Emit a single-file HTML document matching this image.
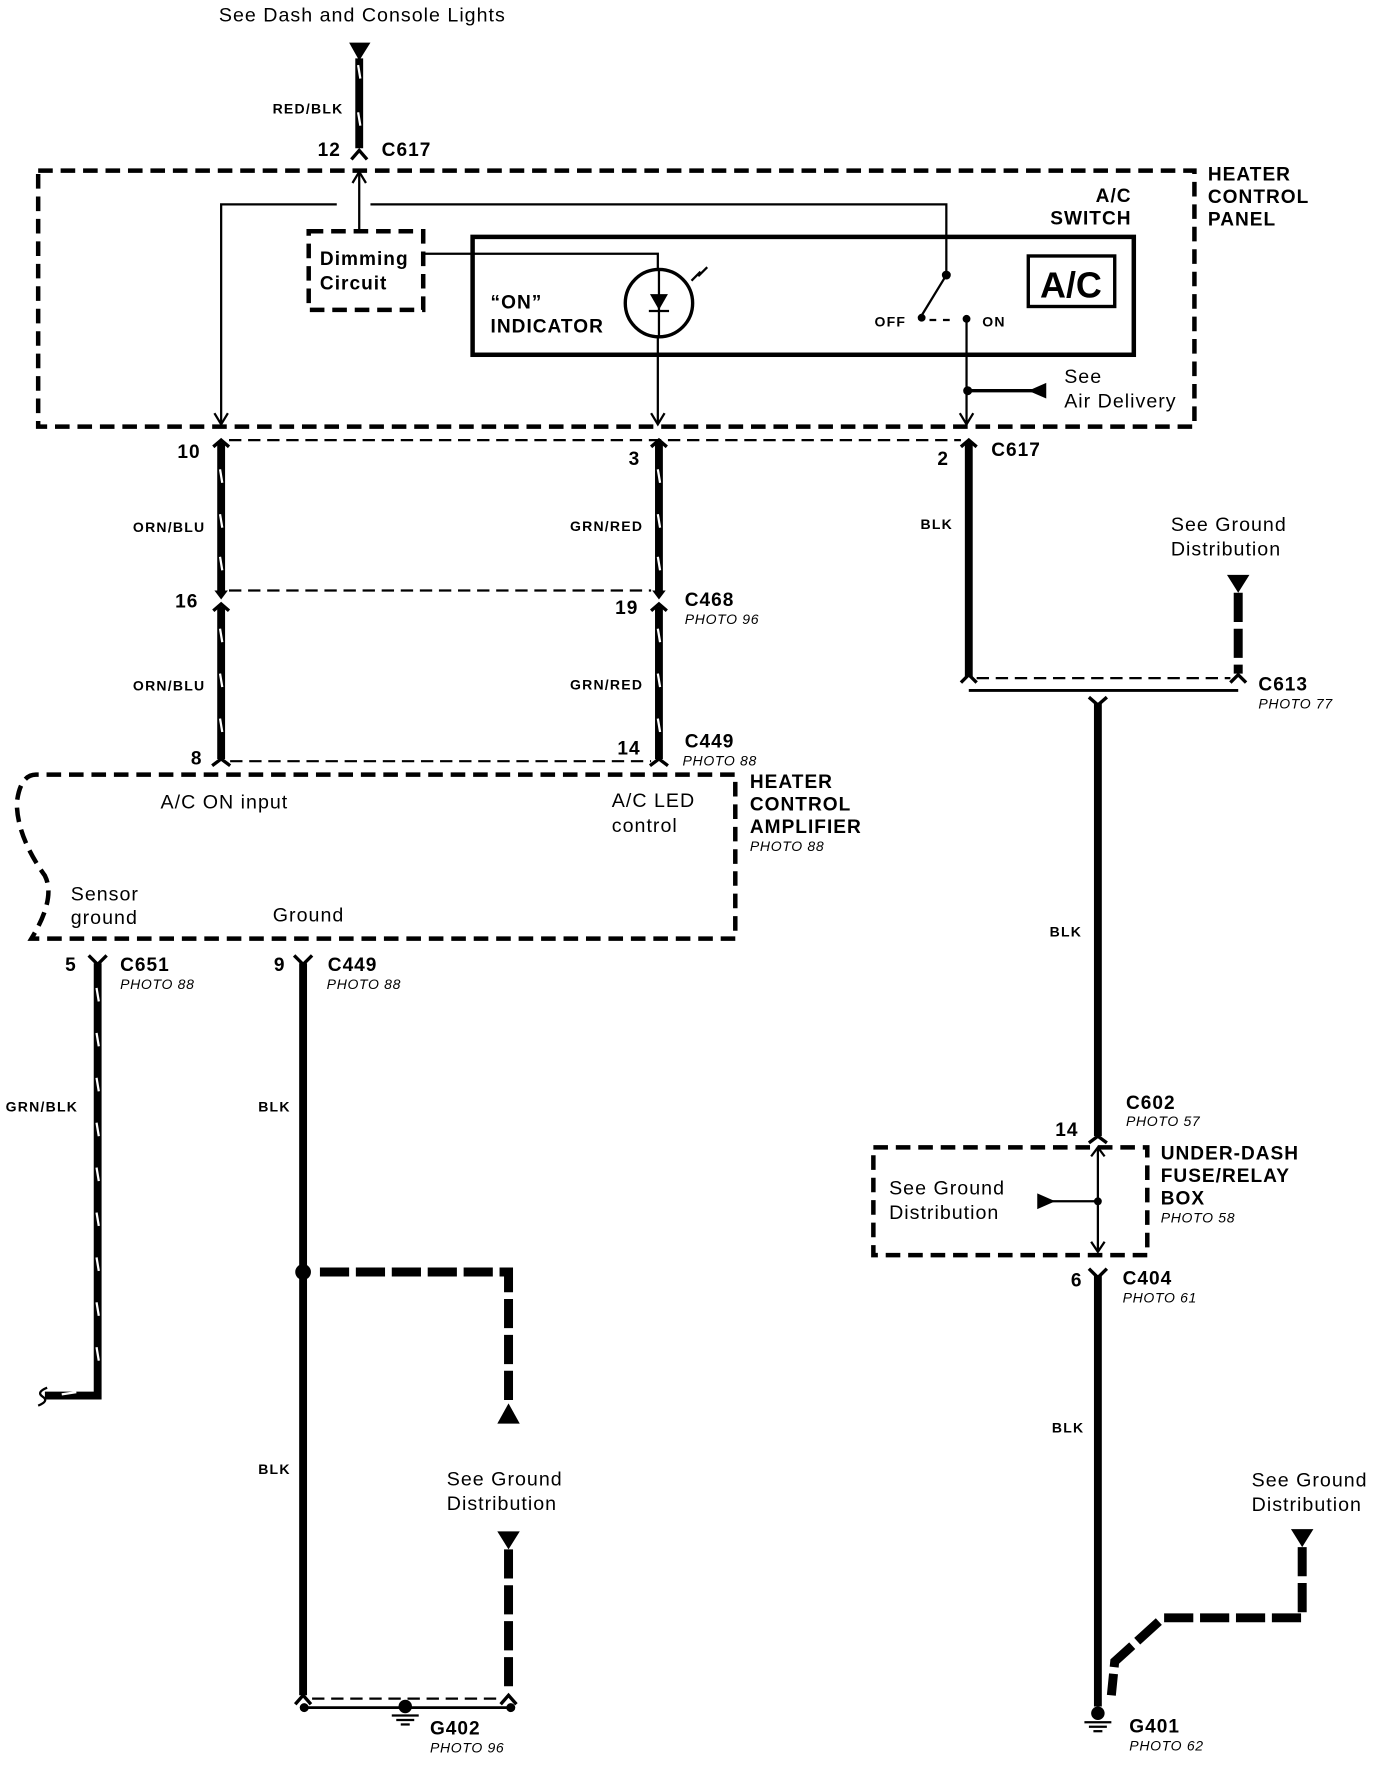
<!DOCTYPE html>
<html><head><meta charset="utf-8"><style>
html,body{margin:0;padding:0;background:#fff;}
svg{display:block;}
text{font-family:"Liberation Sans",sans-serif;fill:#000;}
.b{font-weight:bold;}
.lbl{font-size:17.5px;letter-spacing:0.9px;}
.big{font-size:17px;font-weight:bold;letter-spacing:0.9px;}
.sm{font-size:12.5px;font-weight:bold;letter-spacing:1.1px;}
.ph{font-size:12.5px;font-style:italic;letter-spacing:0.6px;}
.w{stroke:#000;stroke-width:7;fill:none;}
.t{stroke:#000;stroke-width:2;fill:none;}
.d{stroke:#000;stroke-width:4;fill:none;stroke-dasharray:13 7;}
.dt{stroke:#000;stroke-width:2;fill:none;stroke-dasharray:11 6;}
.dw{stroke:#000;stroke-width:8;fill:none;stroke-dasharray:26 6;}
.tk{stroke:#fff;stroke-width:2;}
.f{stroke:#000;stroke-width:3;fill:none;}
</style></head><body>
<svg width="1392" height="1766" viewBox="0 0 1240 1573" preserveAspectRatio="none" xmlns="http://www.w3.org/2000/svg">
<!-- top -->
<text x="195" y="19" class="lbl">See Dash and Console Lights</text>
<polygon points="311,38 330,38 320,54" fill="#000"/>
<line x1="320" y1="52" x2="320" y2="132" class="w"/>
<line x1="319" y1="58" x2="321" y2="70" class="tk"/><line x1="319" y1="100" x2="321" y2="112" class="tk"/>
<text x="306" y="101" class="sm" text-anchor="end">RED/BLK</text>
<polyline points="313,142 320,134 327,142" class="f"/>
<text x="283" y="139" class="big">12</text><text x="340" y="139" class="big">C617</text>
<!-- heater control panel -->
<rect x="34" y="152" width="1030" height="228" class="d"/>
<text x="1076" y="161" class="big">HEATER</text><text x="1076" y="181" class="big">CONTROL</text><text x="1076" y="201" class="big">PANEL</text>
<line x1="320" y1="155" x2="320" y2="206" class="t"/><polyline points="314,163 320,153 326,163" class="t"/>
<polyline points="197,376 197,182 300,182" class="t"/><polyline points="330,182 843,182 843,245" class="t"/>
<polyline points="191,368 197,378 203,368" class="t"/>
<rect x="275" y="206" width="102" height="70" class="d"/>
<text x="285" y="236" class="big">Dimming</text><text x="285" y="258" class="big">Circuit</text>
<text x="1008" y="180" class="big" text-anchor="end">A/C</text><text x="1008" y="200" class="big" text-anchor="end">SWITCH</text>
<rect x="421" y="211" width="589" height="105" stroke="#000" stroke-width="4" fill="none"/>
<polyline points="377,226 586,226 586,378" class="t"/>
<polyline points="580,368 586,378 592,368" class="t"/>
<circle cx="587" cy="270" r="30" stroke="#000" stroke-width="3" fill="#fff"/>
<line x1="587" y1="240" x2="587" y2="300" class="t"/>
<polygon points="579,262 595,262 587,276" fill="#000"/><line x1="578" y1="277" x2="596" y2="277" class="t"/>
<line x1="616" y1="250" x2="624" y2="242" class="t"/><line x1="622" y1="246" x2="630" y2="238" class="t"/>
<text x="437" y="275" class="big">“ON”</text><text x="437" y="296" class="big">INDICATOR</text>
<rect x="916" y="228" width="77" height="45" stroke="#000" stroke-width="3" fill="none"/>
<text x="954" y="265" font-size="32" class="b" text-anchor="middle">A/C</text>
<circle cx="843" cy="245" r="4" fill="#000"/>
<line x1="843" y1="245" x2="821" y2="281" class="t"/>
<circle cx="821" cy="283" r="3.5" fill="#000"/>
<line x1="828" y1="285" x2="852" y2="285" class="t" stroke-dasharray="6 6"/>
<circle cx="861" cy="284" r="3.5" fill="#000"/>
<text x="779" y="291" class="sm">OFF</text><text x="875" y="291" class="sm">ON</text>
<line x1="861" y1="284" x2="861" y2="378" class="t"/><polyline points="855,368 861,378 867,368" class="t"/>
<circle cx="862" cy="348" r="4" fill="#000"/>
<line x1="862" y1="348" x2="920" y2="348" stroke="#000" stroke-width="3"/>
<polygon points="916,348 932,341 932,355" fill="#000"/>
<text x="948" y="341" class="lbl">See</text><text x="948" y="363" class="lbl">Air Delivery</text>
<!-- C617 lower -->
<line x1="204" y1="392" x2="856" y2="392" class="dt"/>
<polyline points="190,398 197,392 204,398" class="f"/><polyline points="580,398 587,392 594,398" class="f"/><polyline points="856,398 863,392 870,398" class="f"/>
<text x="158" y="408" class="big">10</text><text x="560" y="414" class="big">3</text><text x="835" y="414" class="big">2</text><text x="883" y="406" class="big">C617</text>
<line x1="197" y1="394" x2="197" y2="528" class="w"/><line x1="587" y1="394" x2="587" y2="528" class="w"/>
<line x1="196" y1="418" x2="198" y2="430" class="tk"/><line x1="196" y1="458" x2="198" y2="470" class="tk"/><line x1="196" y1="496" x2="198" y2="508" class="tk"/>
<line x1="586" y1="418" x2="588" y2="430" class="tk"/><line x1="586" y1="458" x2="588" y2="470" class="tk"/><line x1="586" y1="496" x2="588" y2="508" class="tk"/>
<text x="183" y="474" class="sm" text-anchor="end">ORN/BLU</text><text x="573" y="473" class="sm" text-anchor="end">GRN/RED</text>
<!-- C468 -->
<line x1="204" y1="526" x2="580" y2="526" class="dt"/>
<polygon points="191,526 203,526 197,534" fill="#000"/><polygon points="581,526 593,526 587,534" fill="#000"/>
<polyline points="190,544 197,538 204,544" class="f"/><polyline points="580,544 587,538 594,544" class="f"/>
<text x="156" y="541" class="big">16</text><text x="548" y="547" class="big">19</text><text x="610" y="540" class="big">C468</text><text x="610" y="556" class="ph">PHOTO 96</text>
<line x1="197" y1="540" x2="197" y2="676" class="w"/><line x1="587" y1="540" x2="587" y2="676" class="w"/>
<line x1="196" y1="560" x2="198" y2="572" class="tk"/><line x1="196" y1="600" x2="198" y2="612" class="tk"/><line x1="196" y1="640" x2="198" y2="652" class="tk"/>
<line x1="586" y1="560" x2="588" y2="572" class="tk"/><line x1="586" y1="600" x2="588" y2="612" class="tk"/><line x1="586" y1="640" x2="588" y2="652" class="tk"/>
<text x="183" y="615" class="sm" text-anchor="end">ORN/BLU</text><text x="573" y="614" class="sm" text-anchor="end">GRN/RED</text>
<line x1="205" y1="678" x2="580" y2="678" class="dt"/>
<polyline points="189,682 197,676 205,682" class="f"/><polyline points="579,682 587,676 595,682" class="f"/>
<text x="170" y="681" class="big">8</text><text x="550" y="672" class="big">14</text><text x="610" y="666" class="big">C449</text><text x="608" y="682" class="ph">PHOTO 88</text>
<!-- amplifier -->
<path d="M655,776 L655,836 L28,836 Q50,800 40,780 Q15,745 15,715 Q18,690 32,690 L655,690 L655,770" class="d"/>
<text x="668" y="702" class="big">HEATER</text><text x="668" y="722" class="big">CONTROL</text><text x="668" y="742" class="big">AMPLIFIER</text><text x="668" y="758" class="ph">PHOTO 88</text>
<text x="143" y="720" class="lbl">A/C ON input</text>
<text x="545" y="719" class="lbl">A/C LED</text><text x="545" y="741" class="lbl">control</text>
<text x="63" y="802" class="lbl">Sensor</text><text x="63" y="823" class="lbl">ground</text>
<text x="243" y="821" class="lbl">Ground</text>
<!-- left lower -->
<polyline points="79,851 87,859 95,851" class="f"/><polyline points="262,851 270,859 278,851" class="f"/>
<text x="58" y="865" class="big">5</text><text x="107" y="865" class="big">C651</text><text x="107" y="881" class="ph">PHOTO 88</text>
<text x="244" y="865" class="big">9</text><text x="292" y="865" class="big">C449</text><text x="291" y="881" class="ph">PHOTO 88</text>
<polyline points="87,858 87,1243 40,1243" class="w"/>
<path d="M42,1236 Q32,1240 38,1244 Q44,1248 34,1252" class="t"/>
<line x1="86" y1="880" x2="88" y2="892" class="tk"/><line x1="86" y1="920" x2="88" y2="932" class="tk"/><line x1="86" y1="960" x2="88" y2="972" class="tk"/><line x1="86" y1="1000" x2="88" y2="1012" class="tk"/><line x1="86" y1="1040" x2="88" y2="1052" class="tk"/><line x1="86" y1="1080" x2="88" y2="1092" class="tk"/><line x1="86" y1="1120" x2="88" y2="1132" class="tk"/><line x1="86" y1="1160" x2="88" y2="1172" class="tk"/><line x1="86" y1="1200" x2="88" y2="1212" class="tk"/><line x1="55" y1="1242" x2="68" y2="1240" class="tk"/>
<text x="5" y="990" class="sm">GRN/BLK</text>
<line x1="270" y1="858" x2="270" y2="1510" class="w"/>
<text x="230" y="990" class="sm">BLK</text><text x="230" y="1313" class="sm">BLK</text>
<circle cx="270" cy="1133" r="7" fill="#000"/>
<polyline points="285,1133 453,1133 453,1248" class="dw"/>
<polygon points="443,1268 463,1268 453,1250" fill="#000"/>
<text x="398" y="1323" class="lbl">See Ground</text><text x="398" y="1345" class="lbl">Distribution</text>
<polygon points="443,1364 463,1364 453,1380" fill="#000"/>
<line x1="453" y1="1380" x2="453" y2="1506" class="dw"/>
<line x1="278" y1="1513" x2="446" y2="1513" class="dt"/>
<line x1="270" y1="1521" x2="455" y2="1521" stroke="#000" stroke-width="2.5"/>
<circle cx="271" cy="1521" r="4" fill="#000"/><circle cx="455" cy="1521" r="4" fill="#000"/>
<polyline points="263,1518 270,1510 277,1518" class="f"/><polyline points="446,1518 453,1510 460,1518" class="f"/>
<circle cx="361" cy="1520" r="6" fill="#000"/>
<line x1="349" y1="1528" x2="373" y2="1528" class="t"/><line x1="353" y1="1532" x2="369" y2="1532" class="t"/><line x1="357" y1="1536" x2="365" y2="1536" class="t"/>
<text x="383" y="1545" class="big">G402</text><text x="383" y="1561" class="ph">PHOTO 96</text>
<!-- right side -->
<line x1="863" y1="394" x2="863" y2="603" class="w"/>
<text x="820" y="471" class="sm">BLK</text>
<text x="1043" y="473" class="lbl">See Ground</text><text x="1043" y="495" class="lbl">Distribution</text>
<polygon points="1093,512 1113,512 1103,528" fill="#000"/>
<line x1="1103" y1="528" x2="1103" y2="600" class="dw"/>
<line x1="870" y1="604" x2="1096" y2="604" class="dt"/>
<line x1="863" y1="615" x2="1103" y2="615" stroke="#000" stroke-width="2.5"/>
<polyline points="856,608 863,601 870,608" class="f"/><polyline points="1096,608 1103,601 1110,608" class="f"/>
<polyline points="970,621 978,628 986,621" class="f"/>
<text x="1121" y="615" class="big">C613</text><text x="1121" y="631" class="ph">PHOTO 77</text>
<line x1="978" y1="626" x2="978" y2="1012" class="w"/>
<text x="935" y="834" class="sm">BLK</text>
<text x="1003" y="988" class="big">C602</text><text x="1003" y="1003" class="ph">PHOTO 57</text><text x="940" y="1012" class="big">14</text>
<polyline points="970,1018 978,1012 986,1018" class="f"/>
<rect x="778" y="1022" width="244" height="96" class="d"/>
<line x1="978" y1="1022" x2="978" y2="1115" class="t"/>
<polyline points="972,1030 978,1022 984,1030" class="t"/><polyline points="972,1106 978,1115 984,1106" class="t"/>
<circle cx="978" cy="1070" r="3.5" fill="#000"/>
<line x1="935" y1="1070" x2="975" y2="1070" class="t"/>
<polygon points="924,1063 924,1077 940,1070" fill="#000"/>
<text x="792" y="1064" class="lbl">See Ground</text><text x="792" y="1086" class="lbl">Distribution</text>
<text x="1034" y="1033" class="big">UNDER-DASH</text><text x="1034" y="1053" class="big">FUSE/RELAY</text><text x="1034" y="1073" class="big">BOX</text><text x="1034" y="1089" class="ph">PHOTO 58</text>
<polyline points="970,1130 978,1138 986,1130" class="f"/>
<text x="954" y="1146" class="big">6</text><text x="1000" y="1144" class="big">C404</text><text x="1000" y="1160" class="ph">PHOTO 61</text>
<line x1="978" y1="1136" x2="978" y2="1520" class="w"/>
<text x="937" y="1276" class="sm">BLK</text>
<text x="1115" y="1324" class="lbl">See Ground</text><text x="1115" y="1346" class="lbl">Distribution</text>
<polygon points="1150,1362 1170,1362 1160,1378" fill="#000"/>
<polyline points="1160,1378 1160,1441 1036,1441 993,1480 990,1510" class="dw"/>
<circle cx="978" cy="1526" r="6" fill="#000"/>
<line x1="966" y1="1534" x2="990" y2="1534" class="t"/><line x1="970" y1="1538" x2="986" y2="1538" class="t"/><line x1="974" y1="1542" x2="982" y2="1542" class="t"/>
<text x="1006" y="1543" class="big">G401</text><text x="1006" y="1559" class="ph">PHOTO 62</text>
</svg>
</body></html>
